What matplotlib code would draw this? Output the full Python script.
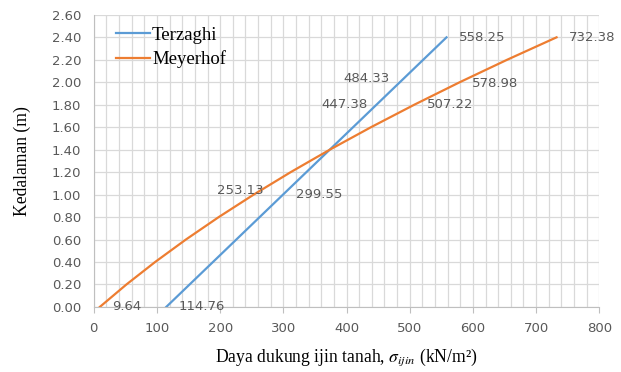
import numpy as np
import matplotlib.pyplot as plt
from matplotlib.ticker import MultipleLocator

# data
kedalaman = [0.0, 0.2, 0.4, 0.6, 0.8, 1.0, 1.2, 1.4, 1.6, 1.8, 2.0, 2.2, 2.4]
terzaghi = [114.76, 151.72, 188.68, 225.63, 262.59, 299.55, 336.51, 373.47,
            410.42, 447.38, 484.33, 521.29, 558.25]
meyerhof = [9.64, 51.75, 97.15, 145.85, 197.85, 253.13, 311.71, 373.58,
            438.76, 507.22, 578.98, 654.03, 732.38]

# labelled points: (depth, value, offset in points, alignment)
label_t = [(0.0, 114.76, (9, 0), 'left'), (1.0, 299.55, (9, 0), 'left'),
           (1.8, 447.38, (-6, 0), 'right'), (2.0, 484.33, (-7, 3), 'right'),
           (2.4, 558.25, (9, 0), 'left')]
label_m = [(0.0, 9.64, (9, 0), 'left'), (1.0, 253.13, (7, 3), 'right'),
           (1.8, 507.22, (9, 0), 'left'), (2.0, 578.98, (9, -1), 'left'),
           (2.4, 732.38, (9, 0), 'left')]

biru = '#5B9BD5'
oranye = '#ED7D31'
abu = '#595959'

plt.rcParams['mathtext.fontset'] = 'stix'

fig = plt.figure(figsize=(6.21, 3.72), dpi=100)
ax = fig.add_axes([0.151, 0.175, 0.814, 0.785])

ax.plot(terzaghi, kedalaman, color=biru, lw=1.6, label='Terzaghi', zorder=3)
ax.plot(meyerhof, kedalaman, color=oranye, lw=1.6, label='Meyerhof', zorder=3)

for y, x, off, ha in label_t + label_m:
    ax.annotate(f'{x:.2f}', (x, y), xytext=off, textcoords='offset points',
                ha=ha, va='center', fontsize=9.5, color=abu)

ax.set_xlim(0, 800)
ax.set_ylim(0, 2.6)
ax.xaxis.set_major_locator(MultipleLocator(100))
ax.xaxis.set_minor_locator(MultipleLocator(20))
ax.yaxis.set_major_locator(MultipleLocator(0.2))
ax.set_yticklabels([f'{v:.2f}' for v in ax.get_yticks()])
ax.grid(True, which='both', color='#D9D9D9', lw=0.9, zorder=0)
ax.set_axisbelow(True)

for sp in ['top', 'right']:
    ax.spines[sp].set_visible(False)
for sp in ['left', 'bottom']:
    ax.spines[sp].set_color('#BFBFBF')
ax.tick_params(axis='x', which='major', length=4, color='#BFBFBF', labelsize=9.5,
               labelcolor=abu, pad=7)
ax.tick_params(axis='x', which='minor', length=0)
ax.tick_params(axis='y', length=0, labelsize=9.5, labelcolor=abu, pad=9)

ax.set_xlabel(r'Daya dukung ijin tanah, $\sigma_{ijin}$ (kN/m²)', family='Liberation Serif',
              fontsize=12.7, labelpad=8)
ax.set_ylabel('Kedalaman (m)', family='Liberation Serif', fontsize=12.7, labelpad=15)

leg = ax.legend(loc='upper left', bbox_to_anchor=(0.03, 0.985), frameon=False,
                prop={'family': 'Liberation Serif', 'size': 13.5}, handlelength=1.8,
                handletextpad=0.1, labelspacing=0.35, borderaxespad=0)

fig.savefig('out.png', dpi=100)
